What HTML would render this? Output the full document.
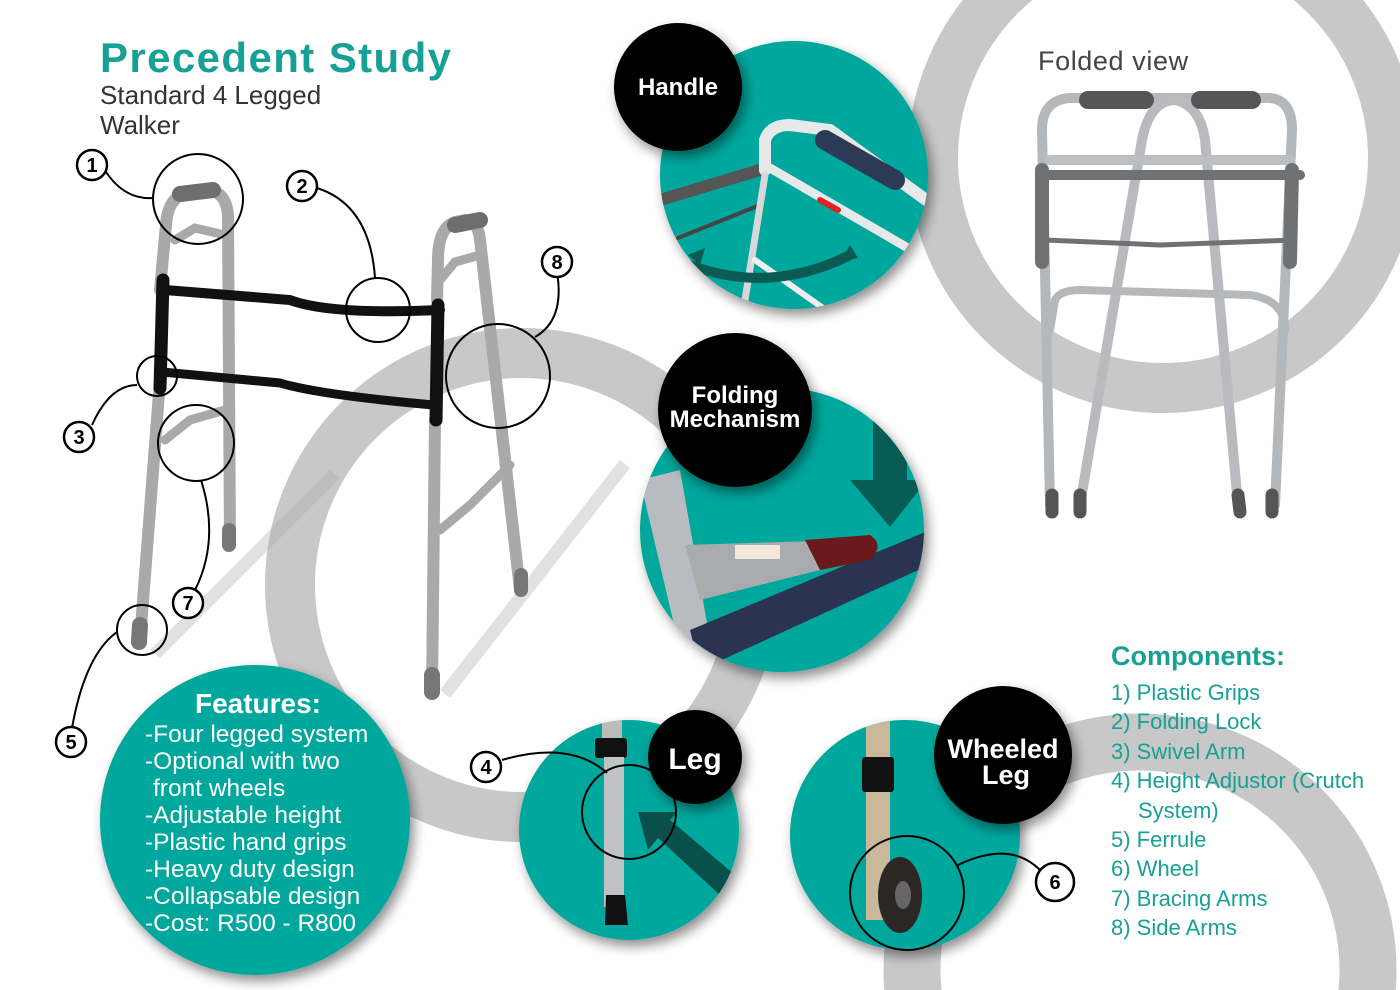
<!DOCTYPE html>
<html><head><meta charset="utf-8"><style>
html,body{margin:0;padding:0;background:#fff;width:1400px;height:990px;overflow:hidden}
svg{display:block}
text{font-family:"Liberation Sans",Arial,sans-serif}
</style></head><body>
<svg width="1400" height="990" viewBox="0 0 1400 990" xmlns="http://www.w3.org/2000/svg">
<defs>
<filter id="sh" x="-20%" y="-20%" width="140%" height="140%"><feGaussianBlur in="SourceAlpha" stdDeviation="6"/><feOffset dx="4" dy="6"/><feComponentTransfer><feFuncA type="linear" slope="0.45"/></feComponentTransfer><feMerge><feMergeNode/><feMergeNode in="SourceGraphic"/></feMerge></filter>
<clipPath id="cH"><circle cx="794" cy="175" r="134"/></clipPath>
<clipPath id="cF"><circle cx="782" cy="530" r="142"/></clipPath>
<clipPath id="cL"><circle cx="629" cy="830" r="110"/></clipPath>
<clipPath id="cW"><circle cx="905" cy="835" r="115"/></clipPath>
</defs>
<!-- grey rings -->
<circle cx="1163" cy="158" r="230" fill="none" stroke="#c8c8c8" stroke-width="50"/>
<circle cx="522" cy="585" r="232" fill="none" stroke="#c8c8c8" stroke-width="50"/>
<circle cx="1140" cy="970" r="228" fill="none" stroke="#c8c8c8" stroke-width="57"/>
<!-- floor shadows -->
<path d="M150 650 L330 470 L340 478 L160 658Z" fill="#aaa" opacity="0.35"/>
<path d="M440 690 L620 460 L630 468 L450 698Z" fill="#aaa" opacity="0.35"/>

<!-- Title -->
<text x="100" y="72" font-size="42" font-weight="bold" fill="#17a096" letter-spacing="1.4">Precedent Study</text>
<text x="100" y="104" font-size="26" fill="#333">Standard 4 Legged</text>
<text x="100" y="134" font-size="26" fill="#333">Walker</text>

<!-- Walker -->
<g fill="none" stroke-linecap="round">
 <path d="M230 545 L228 215 Q226 190 205 190 L190 192 Q168 195 166 225 L160 290" stroke="#a8aaa8" stroke-width="12"/>
 <path d="M160 380 L140 640" stroke="#a8aaa8" stroke-width="12"/>
 <path d="M520 590 L480 240 Q478 220 465 220 L455 222 Q438 228 438 260 L437 300" stroke="#a8aaa8" stroke-width="12"/>
 <path d="M435 420 L432 690" stroke="#a8aaa8" stroke-width="12"/>
 <path d="M175 240 L195 228 L225 235" stroke="#a8aaa8" stroke-width="9"/>
 <path d="M165 440 L190 420 L225 410" stroke="#a8aaa8" stroke-width="9"/>
 <path d="M440 280 L455 262 L480 255" stroke="#a8aaa8" stroke-width="9"/>
 <path d="M440 530 L470 505 L510 465" stroke="#a8aaa8" stroke-width="9"/>
 <path d="M165 290 L290 300 Q330 315 440 310" stroke="#111" stroke-width="10"/>
 <path d="M162 372 L280 383 Q320 395 434 405" stroke="#111" stroke-width="9"/>
 <path d="M163 280 L160 388" stroke="#111" stroke-width="13"/>
 <path d="M438 305 L436 420" stroke="#111" stroke-width="13"/>
 <path d="M180 194 L213 190" stroke="#6d6e70" stroke-width="16"/>
 <path d="M455 225 L480 220" stroke="#6d6e70" stroke-width="16"/>
 <path d="M140 625 L139 642" stroke="#777" stroke-width="16"/>
 <path d="M229 530 L229 545" stroke="#777" stroke-width="14"/>
 <path d="M432 675 L432 692" stroke="#777" stroke-width="16"/>
 <path d="M521 575 L521 590" stroke="#777" stroke-width="14"/>
</g>

<!-- callouts -->
<g fill="none" stroke="#000" stroke-width="2">
 <circle cx="198" cy="199" r="45"/><path d="M106 172 Q125 200 153 198"/>
 <circle cx="378" cy="310" r="32"/><path d="M317 188 Q370 205 375 278"/>
 <circle cx="157" cy="376" r="20"/><path d="M92 425 Q110 385 137 385"/>
 <circle cx="498" cy="376" r="52"/><path d="M557 272 Q565 320 535 337"/>
 <circle cx="196" cy="443" r="38"/><path d="M201 480 Q220 540 195 590"/>
 <circle cx="142" cy="630" r="25"/><path d="M72 728 Q85 655 117 632"/>
</g>
<g font-size="20" font-weight="bold" text-anchor="middle">
 <g fill="#fff" stroke="#000" stroke-width="2.5">
  <circle cx="92" cy="165" r="15"/><circle cx="302" cy="186" r="15"/><circle cx="557" cy="262" r="15"/>
  <circle cx="79" cy="437" r="15"/><circle cx="188" cy="603" r="15"/><circle cx="71" cy="742" r="15"/>
 </g>
 <text x="92" y="172">1</text><text x="302" y="193">2</text><text x="557" y="269">8</text>
 <text x="79" y="444">3</text><text x="188" y="610">7</text><text x="71" y="749">5</text>
</g>

<!-- Features circle -->
<circle cx="255" cy="820" r="155" fill="#00a79d" filter="url(#sh)"/>
<text x="258" y="713" font-size="28" font-weight="bold" fill="#fff" text-anchor="middle">Features:</text>
<g font-size="24.5" fill="#fff">
 <text x="145" y="742">-Four legged system</text>
 <text x="145" y="769">-Optional with two</text>
 <text x="153" y="796">front wheels</text>
 <text x="145" y="823">-Adjustable height</text>
 <text x="145" y="850">-Plastic hand grips</text>
 <text x="145" y="877">-Heavy duty design</text>
 <text x="145" y="904">-Collapsable design</text>
 <text x="145" y="931">-Cost: R500 - R800</text>
</g>

<!-- Handle circle -->
<circle cx="794" cy="175" r="134" fill="#00a79d" filter="url(#sh)"/>
<g clip-path="url(#cH)" fill="none" stroke-linecap="round">
 <path d="M660 200 L760 170" stroke="#555" stroke-width="12"/>
 <path d="M678 238 L760 205" stroke="#444" stroke-width="4"/>
 <path d="M765 170 L765 140 Q770 125 790 125 L830 130 L940 210" stroke="#e6e8ea" stroke-width="12"/>
 <path d="M770 168 L920 255" stroke="#e6e8ea" stroke-width="9"/>
 <path d="M765 175 L745 300" stroke="#d8d8d8" stroke-width="7"/>
 <path d="M755 260 L840 320" stroke="#eee" stroke-width="6"/>
 <path d="M825 140 L895 180" stroke="#2c3a55" stroke-width="20"/>
 <path d="M820 200 L838 210" stroke="#d22" stroke-width="6"/>
 <path d="M690 265 Q770 295 850 255" stroke="#0b5a54" stroke-width="10"/>
</g>
<path d="M688 255 L705 248 L700 265Z M858 258 L850 245 L840 262Z" fill="#0b5a54"/>
<circle cx="678" cy="87" r="64" fill="#000" filter="url(#sh)"/>
<text x="678" y="95" font-size="24" font-weight="bold" fill="#fff" text-anchor="middle">Handle</text>

<!-- Folding circle -->
<circle cx="782" cy="530" r="142" fill="#00a79d" filter="url(#sh)"/>
<g clip-path="url(#cF)">
 <path d="M640 480 L680 470 L710 640 L680 650Z" fill="#b8bcc0"/>
 <path d="M690 630 L930 530 L940 560 L700 670Z" fill="#2a3350"/>
 <path d="M685 545 L850 540 L860 560 L700 600Z" fill="#a9abad"/>
 <rect x="735" y="545" width="45" height="14" fill="#f3e8dc"/>
 <path d="M805 540 L870 535 Q885 545 870 560 L820 570Z" fill="#6a1a1c"/>
 <path d="M873 390 L907 390 L907 480 L927 480 L890 527 L850 480 L873 480Z" fill="#094f4a" opacity="0.85"/>
</g>
<circle cx="735" cy="410" r="77" fill="#000" filter="url(#sh)"/>
<text x="735" y="403" font-size="24" font-weight="bold" fill="#fff" text-anchor="middle">Folding</text>
<text x="735" y="427" font-size="24" font-weight="bold" fill="#fff" text-anchor="middle">Mechanism</text>

<!-- Leg circle -->
<circle cx="629" cy="830" r="110" fill="#00a79d" filter="url(#sh)"/>
<g clip-path="url(#cL)">
 <rect x="602" y="720" width="20" height="30" fill="#bbb"/>
 <rect x="595" y="738" width="32" height="20" rx="3" fill="#111"/>
 <rect x="604" y="757" width="20" height="150" fill="#c0c2c4"/>
 <path d="M606 895 L625 895 L628 925 L605 925Z" fill="#111"/>
 <path d="M735 875 L670 820 L677 812 L638 812 L648 850 L658 838 L720 895Z" fill="#094f4a"/>
</g>
<g fill="none" stroke="#000" stroke-width="2"><circle cx="629" cy="812" r="47"/><path d="M502 760 Q570 740 607 773"/></g>
<circle cx="486" cy="767" r="15" fill="#fff" stroke="#000" stroke-width="2.5"/>
<text x="486" y="774" font-size="20" font-weight="bold" text-anchor="middle">4</text>
<circle cx="695" cy="757" r="47" fill="#000" filter="url(#sh)"/>
<text x="695" y="769" font-size="30" font-weight="bold" fill="#fff" text-anchor="middle">Leg</text>

<!-- Wheeled circle -->
<circle cx="905" cy="835" r="115" fill="#00a79d" filter="url(#sh)"/>
<g clip-path="url(#cW)">
 <rect x="866" y="720" width="24" height="200" fill="#c9b99a"/>
 <rect x="862" y="757" width="32" height="35" rx="3" fill="#111"/>
 <ellipse cx="900" cy="895" rx="22" ry="38" fill="#2c2722"/>
 <ellipse cx="903" cy="895" rx="8" ry="14" fill="#666"/>
</g>
<g fill="none" stroke="#000" stroke-width="2"><circle cx="907" cy="893" r="57"/><path d="M958 865 Q1010 840 1040 870"/></g>
<circle cx="1003" cy="755" r="69" fill="#000" filter="url(#sh)"/>
<text x="1003" y="758" font-size="27" font-weight="bold" fill="#fff" text-anchor="middle">Wheeled</text>
<text x="1006" y="784" font-size="27" font-weight="bold" fill="#fff" text-anchor="middle">Leg</text>
<circle cx="1055" cy="882" r="19" fill="#fff" stroke="#000" stroke-width="2.5"/>
<text x="1055" y="889" font-size="20" font-weight="bold" text-anchor="middle">6</text>

<!-- Folded view -->
<text x="1038" y="70" font-size="27" fill="#444" letter-spacing="0.6">Folded view</text>
<g fill="none" stroke-linecap="round">
 <path d="M1050 505 L1042 130 Q1042 100 1070 98 L1270 98 Q1292 100 1292 130 L1275 505" stroke="#b5b8bb" stroke-width="10"/>
 <path d="M1080 505 L1142 140 Q1150 100 1175 100 Q1200 105 1205 140 L1238 505" stroke="#b8babd" stroke-width="10"/>
 <path d="M1050 330 L1055 300 Q1060 290 1080 290 L1250 295 Q1285 300 1285 330" stroke="#b5b8bb" stroke-width="8"/>
 <path d="M1050 160 L1290 160" stroke="#bcbfc2" stroke-width="10"/>
 <path d="M1040 175 L1300 175" stroke="#6f7173" stroke-width="10"/>
 <path d="M1045 240 L1160 245 L1295 240" stroke="#6f7173" stroke-width="5"/>
 <path d="M1042 170 L1042 262 M1292 170 L1290 262" stroke="#6f7173" stroke-width="14"/>
 <path d="M1088 100 L1145 100 M1200 100 L1252 100" stroke="#555" stroke-width="18"/>
 <path d="M1052 495 L1052 512 M1080 495 L1080 512 M1238 495 L1240 512 M1272 495 L1272 512" stroke="#555" stroke-width="13"/>
</g>

<!-- Components -->
<text x="1111" y="665" font-size="27" fill="#17a096" font-weight="bold">Components:</text>
<g font-size="22" fill="#17a096">
 <text x="1111" y="700">1) Plastic Grips</text>
 <text x="1111" y="729">2) Folding Lock</text>
 <text x="1111" y="759">3) Swivel Arm</text>
 <text x="1111" y="788">4) Height Adjustor (Crutch</text>
 <text x="1138" y="818">System)</text>
 <text x="1111" y="847">5) Ferrule</text>
 <text x="1111" y="876">6) Wheel</text>
 <text x="1111" y="906">7) Bracing Arms</text>
 <text x="1111" y="935">8) Side Arms</text>
</g>
</svg>
</body></html>
